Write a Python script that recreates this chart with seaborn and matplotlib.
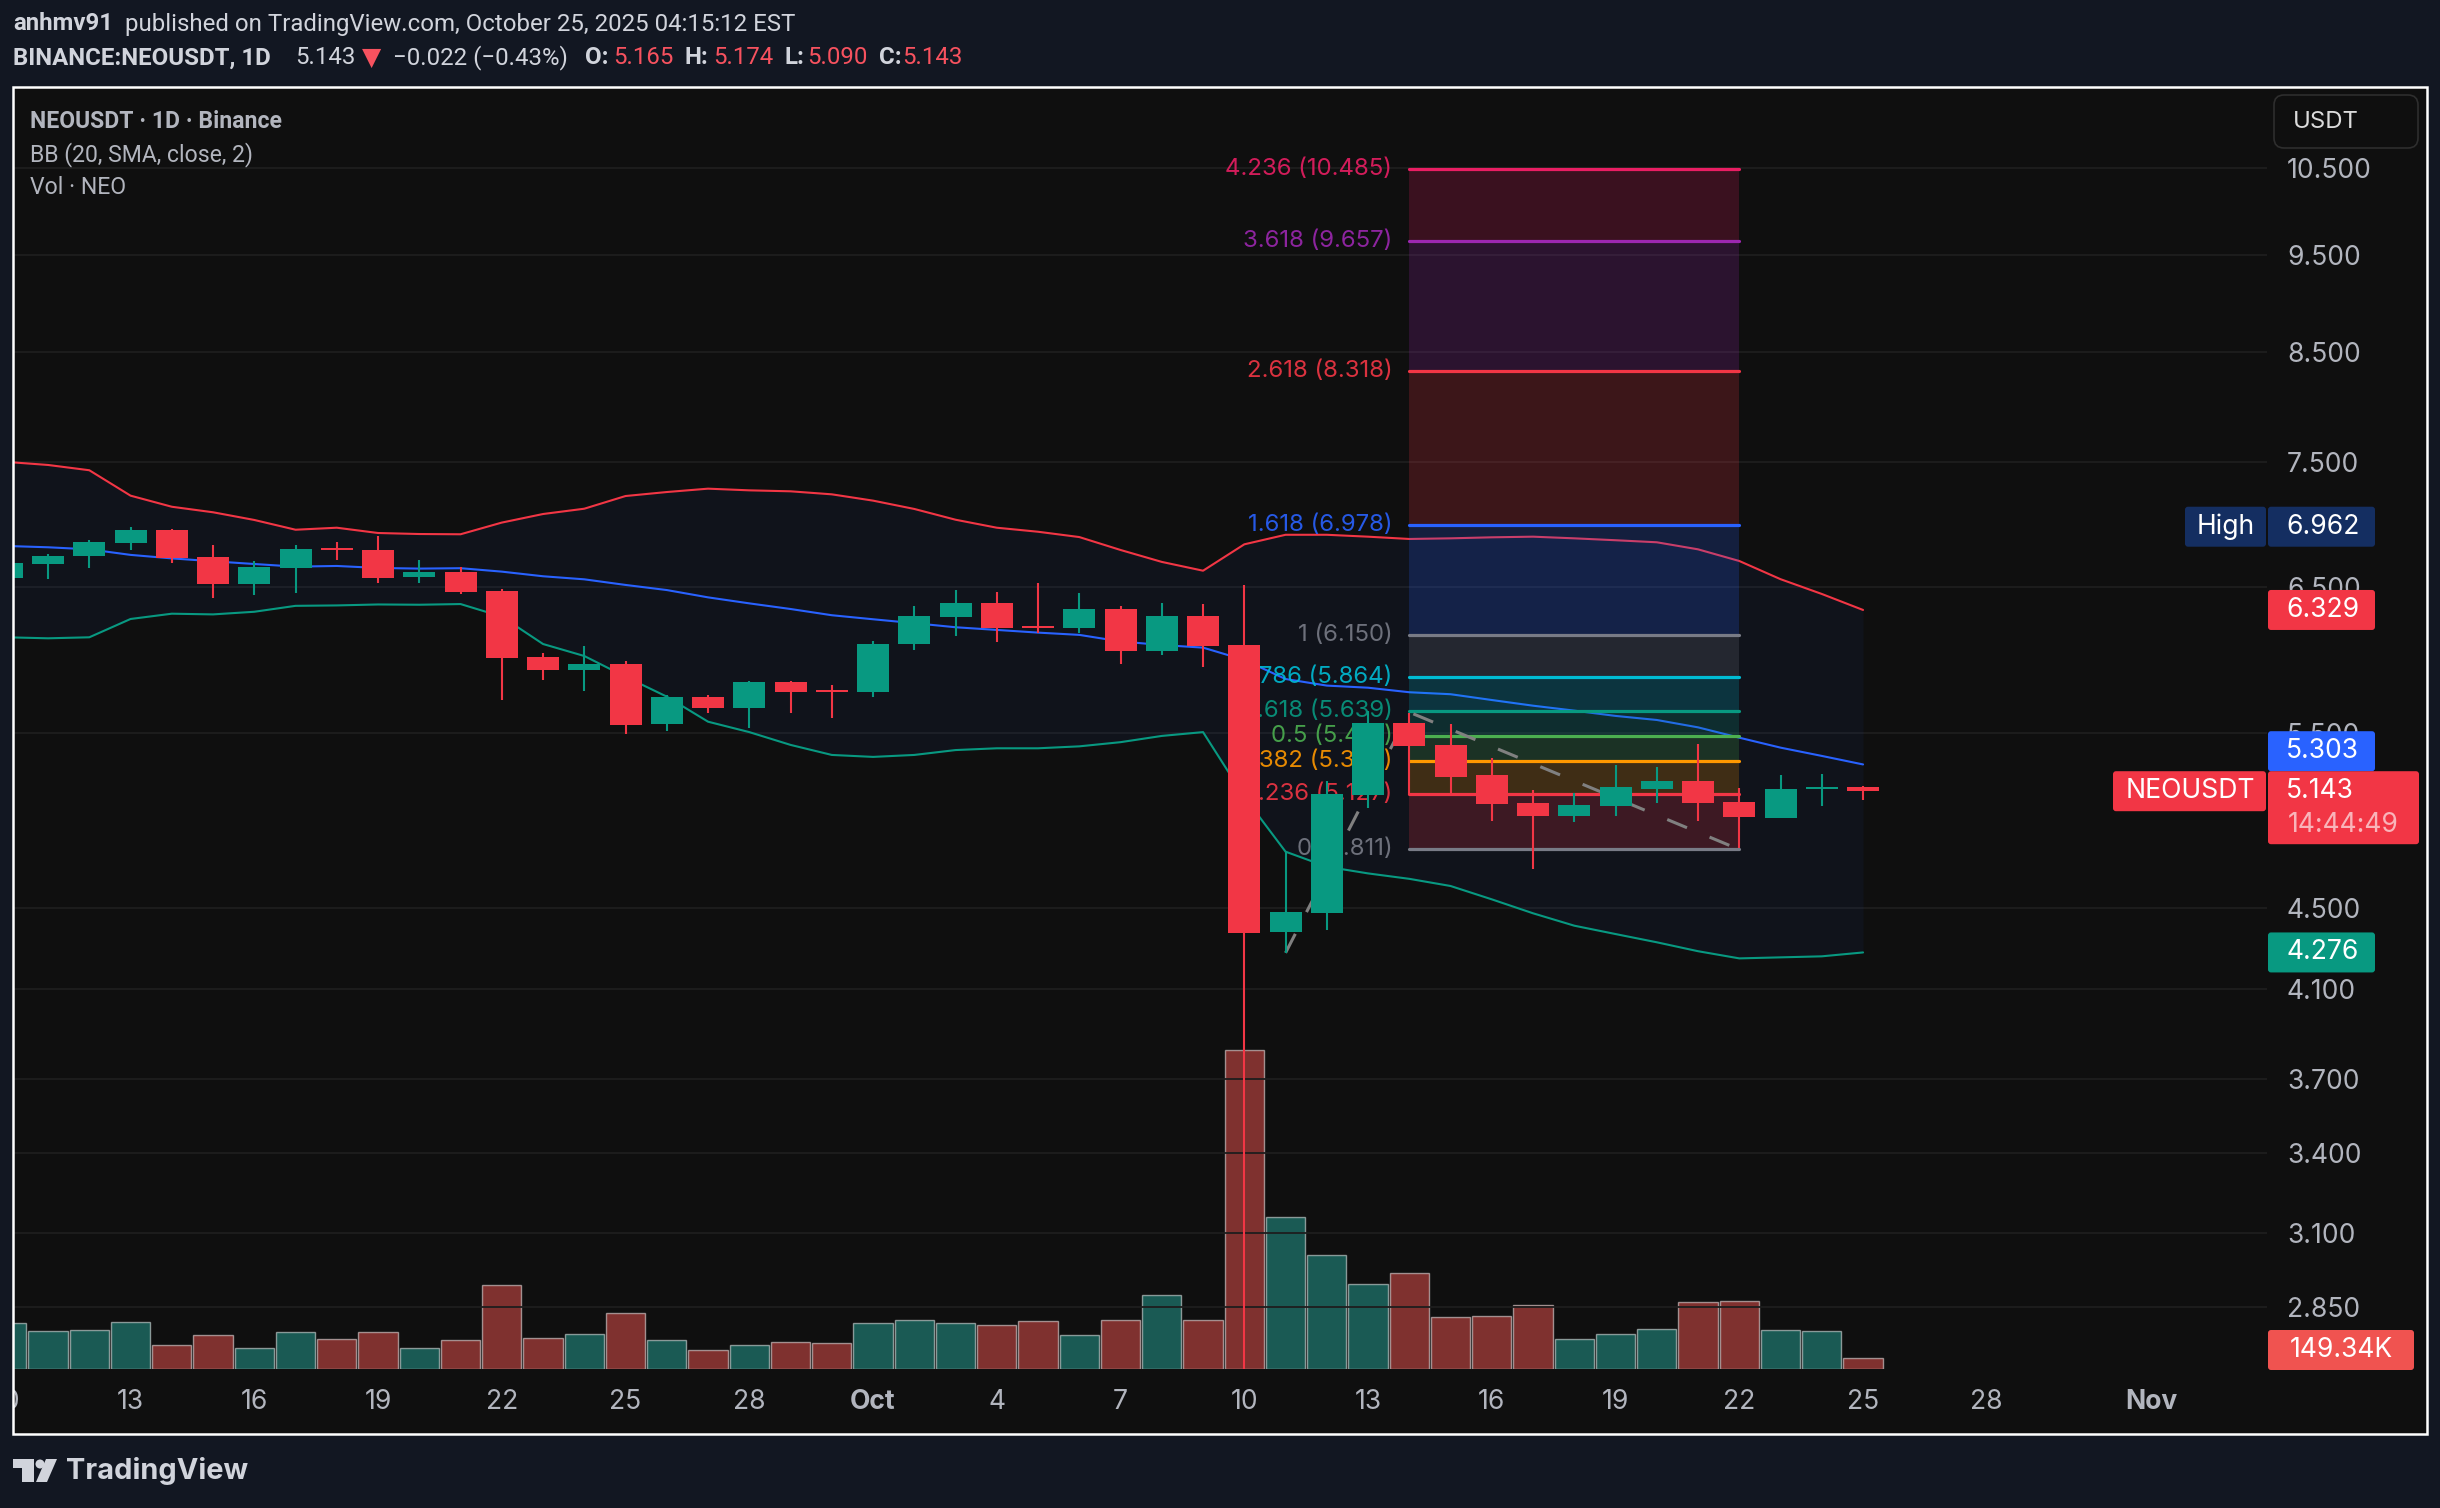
"""NEOUSDT daily chart, TradingView dark snapshot with fib levels and volume."""
import matplotlib
matplotlib.use("Agg")
import matplotlib.pyplot as plt
from matplotlib.patches import FancyBboxPatch, Rectangle, Polygon, Circle
import numpy as np
import pandas as pd
import seaborn as sns

# --------------------------------------------------------------------------- #
# Data (days counted from Sep 10)
# --------------------------------------------------------------------------- #
opens = [6.565, 6.671, 6.733, 6.834, 6.936, 6.725, 6.520, 6.641, 6.795, 6.779, 6.572, 6.611,
         6.468, 5.998, 5.909, 5.950, 5.554, 5.729, 5.657, 5.828, 5.775, 5.762, 6.087, 6.279,
         6.380, 6.214, 6.200, 6.336, 6.039, 6.286, 6.081, 4.377, 4.474, 5.120, 5.561, 5.422,
         5.239, 5.074, 4.999, 5.056, 5.156, 5.203, 5.079, 4.988, 5.156, 5.165]
closes = [6.679, 6.733, 6.841, 6.936, 6.717, 6.520, 6.649, 6.787, 6.779, 6.565, 6.611, 6.460,
          5.991, 5.909, 5.950, 5.548, 5.729, 5.657, 5.828, 5.762, 5.762, 6.087, 6.286, 6.380,
          6.200, 6.200, 6.336, 6.039, 6.286, 6.074, 4.372, 4.479, 5.126, 5.561, 5.416, 5.227,
          5.068, 4.999, 5.062, 5.168, 5.203, 5.074, 4.993, 5.156, 5.168, 5.143]
highs = [6.717, 6.748, 6.857, 6.960, 6.944, 6.818, 6.694, 6.818, 6.841, 6.888, 6.702, 6.649,
         6.483, 6.025, 6.074, 5.970, 5.742, 5.742, 5.835, 5.835, 5.808, 6.108, 6.358, 6.475,
         6.460, 6.528, 6.453, 6.358, 6.380, 6.372, 6.513, 4.797, 5.203, 5.638, 5.625, 5.554,
         5.342, 5.150, 5.132, 5.299, 5.287, 5.428, 5.162, 5.239, 5.245, 5.174]
lows = [6.535, 6.558, 6.641, 6.779, 6.679, 6.417, 6.438, 6.453, 6.702, 6.527, 6.527, 6.446,
        5.709, 5.841, 5.769, 5.491, 5.510, 5.625, 5.529, 5.625, 5.593, 5.729, 6.046, 6.144,
        6.101, 6.165, 6.165, 5.950, 6.011, 5.930, 2.650, 4.273, 4.387, 5.045, 5.120, 5.132,
        4.970, 4.704, 4.965, 4.999, 5.074, 4.970, 4.819, 4.988, 5.056, 5.090]
bb_upper = [7.498, 7.472, 7.427, 7.214, 7.123, 7.078, 7.016, 6.938, 6.954, 6.912, 6.904, 6.902,
            6.995, 7.064, 7.107, 7.211, 7.244, 7.272, 7.258, 7.250, 7.225, 7.173, 7.105, 7.018,
            6.954, 6.922, 6.880, 6.779, 6.687, 6.620, 6.823, 6.898, 6.898, 6.883, 6.865, 6.870,
            6.878, 6.883, 6.870, 6.855, 6.839, 6.784, 6.694, 6.556, 6.446, 6.329]
bb_basis = [6.810, 6.800, 6.784, 6.741, 6.714, 6.692, 6.671, 6.651, 6.656, 6.641, 6.636, 6.639,
            6.613, 6.578, 6.555, 6.513, 6.475, 6.421, 6.377, 6.336, 6.291, 6.262, 6.234, 6.205,
            6.186, 6.167, 6.151, 6.105, 6.080, 6.062, 5.977, 5.848, 5.804, 5.790, 5.760, 5.747,
            5.709, 5.672, 5.640, 5.606, 5.580, 5.533, 5.468, 5.406, 5.355, 5.303]
bb_lower = [6.134, 6.127, 6.134, 6.264, 6.302, 6.297, 6.316, 6.359, 6.362, 6.369, 6.367, 6.372,
            6.281, 6.087, 6.004, 5.863, 5.731, 5.569, 5.503, 5.423, 5.361, 5.349, 5.361, 5.391,
            5.402, 5.402, 5.414, 5.440, 5.479, 5.503, 5.110, 4.799, 4.717, 4.681, 4.652, 4.614,
            4.544, 4.472, 4.409, 4.367, 4.326, 4.282, 4.247, 4.252, 4.257, 4.276]
volume_k = [625, 516, 530, 638, 326, 462, 285, 502, 407, 502, 285, 394, 1141, 421, 475, 760,
            394, 258, 326, 367, 353, 625, 665, 625, 598, 652, 462, 665, 1005, 665, 4332, 2064,
            1548, 1154, 1304, 706, 720, 869, 407, 475, 543, 910, 923, 530, 516, 149.34]

fib_levels = [4.811, 5.127, 5.322, 5.481, 5.639, 5.864, 6.150, 6.978, 8.318, 9.657, 10.485]
fib_labels = ["0 (4.811)", "0.236 (5.127)", "0.382 (5.322)", "0.5 (5.481)", "0.618 (5.639)",
              "0.786 (5.864)", "1 (6.150)", "1.618 (6.978)", "2.618 (8.318)", "3.618 (9.657)",
              "4.236 (10.485)"]
fib_colors = ["#787b86", "#f23645", "#ff9800", "#4caf50", "#089981", "#00bcd4", "#787b86",
              "#2962ff", "#f23645", "#9c27b0", "#e91e63"]
fib_days = [34, 42]
trend_days = [31, 34, 42]
trend_prices = [4.274, 5.630, 4.811]

price_ticks = [10.5, 9.5, 8.5, 7.5, 6.5, 5.5, 4.5, 4.1, 3.7, 3.4, 3.1, 2.85]
date_ticks = [0, 3, 6, 9, 12, 15, 18, 21, 24, 27, 30, 33, 36, 39, 42, 45, 48, 52]
date_labels = ["10", "13", "16", "19", "22", "25", "28", "Oct", "4", "7", "10", "13", "16",
               "19", "22", "25", "28", "Nov"]

# --------------------------------------------------------------------------- #
# Theme
# --------------------------------------------------------------------------- #
W, H = 2440, 1508
BG = "#121722"
PANEL = "#0f0f0f"
UP = "#089981"
DOWN = "#f23645"
TXT = "#d1d4dc"
AXTXT = "#b2b5be"
HDR_RED = "#f7525f"

sns.set_theme(style="dark", rc={"axes.facecolor": PANEL, "figure.facecolor": BG})
plt.rcParams["font.family"] = ["Inter", "DejaVu Sans"]


def pt(px):
    return px * 0.72


fig = plt.figure(figsize=(W / 100, H / 100), dpi=100, facecolor=BG)


def rect_px(x0, y0, x1, y1):
    return [x0 / W, 1 - y1 / H, (x1 - x0) / W, (y1 - y0) / H]


bg = fig.add_axes([0, 0, 1, 1], zorder=-1)
bg.set_xlim(0, W)
bg.set_ylim(H, 0)
bg.axis("off")
bg.add_patch(Rectangle((13, 87), 2414, 1347, fc=PANEL, ec="none"))

# price pane: 41.25 px per day, Sep 10 sits at x=6.8
ax = fig.add_axes(rect_px(0, 88, 2267, 1369), zorder=1)
ax.patch.set_visible(False)
ax.set_yscale("log")
days = np.arange(len(opens))
df = pd.DataFrame({"day": days, "open": opens, "close": closes, "high": highs, "low": lows,
                   "upper": bb_upper, "basis": bb_basis, "lower": bb_lower, "vol": volume_k})
df["dir"] = np.where(df["close"] >= df["open"], "up", "down")

# volume sits behind the candles
ax_v = ax.twinx()
ax_v.set_zorder(0)
ax_v.patch.set_visible(False)
sns.barplot(data=df, x="day", y="vol", hue="dir", palette={"up": "#26a69a", "down": "#ef5350"},
            native_scale=True, dodge=False, width=0.95, alpha=0.5, saturation=1,
            legend=False, errorbar=None, ax=ax_v)
ax_v.set_ylim(0, 17396)
ax_v.set_yticks([])
ax_v.set_ylabel("")
ax_v.set_xlabel("")
ax_v.grid(False)

# bollinger bands
ax.fill_between(days, bb_lower, bb_upper, color="#2962ff", alpha=0.05, lw=0, zorder=2)
for col, c in [("upper", DOWN), ("basis", "#2962ff"), ("lower", UP)]:
    sns.lineplot(data=df, x="day", y=col, color=c, lw=1.5, ax=ax, zorder=3)

# fib retracement
for i in range(1, len(fib_levels)):
    ax.fill_between(fib_days, fib_levels[i - 1], fib_levels[i], color=fib_colors[i], alpha=0.2,
                    lw=0, zorder=4)
for lev, lab, c in zip(fib_levels, fib_labels, fib_colors):
    ax.plot(fib_days, [lev, lev], color=c, lw=2.3, solid_capstyle="round", zorder=5)
    ax.annotate(lab, xy=(fib_days[0], lev), xytext=(pt(-17), 0), textcoords="offset points",
                ha="right", va="center", color=c, fontsize=pt(24), alpha=0.9, zorder=5)
ax.plot(trend_days, trend_prices, color="#808080", lw=2.2, ls=(0, (7, 8)), zorder=5.5)

# candles
colors = [UP if d == "up" else DOWN for d in df["dir"]]
ax.vlines(days, lows, highs, colors=colors, lw=1.5, zorder=6)
tops = np.maximum(opens, closes)
bots = np.minimum(opens, closes)
ax.bar(days, tops - bots, bottom=bots, width=0.776, color=colors, lw=0, zorder=7)

ax.set_xlim(-6.8 / 41.25, (2267 - 6.8) / 41.25)
ax.set_ylim(2.654, 11.505)
ax.set_xlabel("")
ax.set_ylabel("")
ax.minorticks_off()
ax.yaxis.tick_right()
ax.set_yticks(price_ticks, labels=[f"{v:.3f}" for v in price_ticks])
ax.set_xticks(date_ticks, labels=date_labels)
ax.tick_params(axis="y", length=0, pad=pt(20), labelsize=pt(26.5), labelcolor=AXTXT)
ax.tick_params(axis="x", length=0, pad=pt(20), labelsize=pt(26.5), labelcolor=AXTXT)
for lab in ax.get_xticklabels():
    if lab.get_text() in ("Oct", "Nov"):
        lab.set_fontweight("bold")
ax.grid(True, axis="y", color="#1e1e1e", lw=1.3)
ax.grid(False, axis="x")
ax.set_axisbelow(True)
for a in (ax, ax_v):
    for s in a.spines.values():
        s.set_visible(False)

# --------------------------------------------------------------------------- #
# Chrome, in pixel coordinates
# --------------------------------------------------------------------------- #
ui = fig.add_axes([0, 0, 1, 1], zorder=2)
ui.set_xlim(0, W)
ui.set_ylim(H, 0)
ui.axis("off")
ui.patch.set_visible(False)
ui.add_patch(Rectangle((0, 0), 12.5, H, fc=BG, ec="none"))
ui.add_patch(Rectangle((13, 87), 2414, 1347, fc="none", ec="#ffffff", lw=1.8))


def label(x, y, s, px, color, weight="normal", ha="left", family="Roboto", alpha=None):
    ui.text(x, y, s, fontsize=pt(px), color=color, fontweight=weight, ha=ha, va="center",
            family=family, alpha=alpha)


def price_y(value):
    return H - ax.transData.transform((0, value))[1]


def box(x0, x1, yc, fc, h=40):
    ui.add_patch(FancyBboxPatch((x0 + 3, yc - h / 2 + 3), x1 - x0 - 6, h - 6,
                                boxstyle="round,pad=3,rounding_size=3", fc=fc, ec="none"))


# header lines
label(13, 24, "anhmv91", 24, TXT, "bold")
label(125, 24, "published on TradingView.com, October 25, 2025 04:15:12 EST", 24, TXT)
label(13, 58, "BINANCE:NEOUSDT, 1D", 24, TXT, "bold")
label(295, 58, "5.143", 24, TXT)
label(362, 58, "\u25bc", 25, HDR_RED, family="DejaVu Sans")
label(393, 58, "\u22120.022 (\u22120.43%)", 24, TXT)
for x_key, x_val, key, val in [(585, 613, "O:", "5.165"), (685, 713, "H:", "5.174"),
                               (784, 807, "L:", "5.090"), (879, 902, "C:", "5.143")]:
    label(x_key, 58, key, 24, TXT, "bold")
    label(x_val, 58, val, 24, HDR_RED)

# pane legend
label(30, 121, "NEOUSDT \u00b7 1D \u00b7 Binance", 23, AXTXT, "bold")
label(30, 155, "BB (20, SMA, close, 2)", 23, AXTXT)
label(30, 188, "Vol \u00b7 NEO", 23, AXTXT)

# currency button
ui.add_patch(FancyBboxPatch((2282, 103), 128, 37, boxstyle="round,pad=8,rounding_size=10",
                            fc=PANEL, ec="#2e2e2e", lw=1.2))
label(2293, 122, "USDT", 24, "#dbdbdb", family="Inter")

# price tags
y_high = price_y(6.962)
box(2185, 2266, y_high, "#142e61")
box(2268, 2375, y_high, "#142e61")
label(2226, y_high, "High", 26.5, "white", ha="center", family="Inter")
label(2286, y_high, "6.962", 26.5, "white", family="Inter")

box(2268, 2375, price_y(6.329), DOWN)
label(2286, price_y(6.329), "6.329", 26.5, "white", family="Inter")

y_last = price_y(5.143)
box(2268, 2375, y_last - 40, "#2962ff")
label(2286, y_last - 40, "5.303", 26.5, "white", family="Inter")

box(2113, 2266, y_last, DOWN)
label(2190, y_last, "NEOUSDT", 26.5, "white", ha="center", family="Inter")
box(2268, 2419, y_last + 16.5, DOWN, h=73)
label(2286, y_last, "5.143", 26.5, "white", family="Inter")
label(2288, y_last + 34, "14:44:49", 26.5, "#f9b4ba", family="Inter")

box(2268, 2375, price_y(4.276), UP)
label(2286, price_y(4.276), "4.276", 26.5, "white", family="Inter")

box(2268, 2414, 1350, "#f05350")
label(2341, 1350, "149.34K", 26.5, "white", ha="center", family="Inter")

# logo
ui.add_patch(Polygon([(13, 1459), (34, 1459), (34, 1482), (22, 1482), (22, 1468), (13, 1468)],
                     fc=TXT, ec="none"))
ui.add_patch(Circle((40, 1464), 4.5, fc=TXT, ec="none"))
ui.add_patch(Polygon([(46, 1459), (57, 1459), (47, 1482), (36, 1482)], fc=TXT, ec="none"))
label(66, 1471, "TradingView", 29, TXT, "bold", family="Inter")

fig.savefig("out.png", dpi=100, facecolor=BG)
